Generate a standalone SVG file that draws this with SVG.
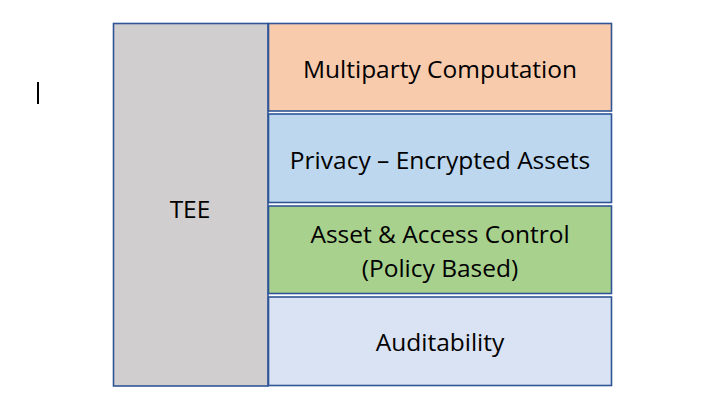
<svg xmlns="http://www.w3.org/2000/svg" width="726" height="417" viewBox="0 0 726 417">
<style>
.box{stroke:#2F5597;stroke-width:1.6}
.t{font-family:"Open Sans","Liberation Sans",sans-serif;font-size:24.5px;fill:#000;text-anchor:middle;dominant-baseline:central}
</style>
<rect width="726" height="417" fill="#fff"/>
<rect x="37" y="82" width="2" height="22" fill="#000"/>
<g id="tee">
<rect class="box" x="113.5" y="23.5" width="154.5" height="362.5" fill="#D0CECE"/>
<text class="t" x="190" y="208">TEE</text>
</g>
<g id="mpc">
<rect class="box" x="268.5" y="23.5" width="343" height="87.5" fill="#F8CBAD"/>
<text class="t" x="440" y="68">Multiparty Computation</text>
</g>
<g id="privacy">
<rect class="box" x="268.5" y="114" width="343" height="88.5" fill="#BDD7EE"/>
<text class="t" x="440" y="159">Privacy – Encrypted Assets</text>
</g>
<g id="access">
<rect class="box" x="268.5" y="206" width="343" height="87.5" fill="#A9D18E"/>
<text class="t" x="440" y="233">Asset &amp; Access Control</text>
<text class="t" x="440" y="267">(Policy Based)</text>
</g>
<g id="audit">
<rect class="box" x="268.5" y="297" width="343" height="88.5" fill="#DAE3F3"/>
<text class="t" x="440" y="341">Auditability</text>
</g>
<g id="connectors"/>
</svg>
